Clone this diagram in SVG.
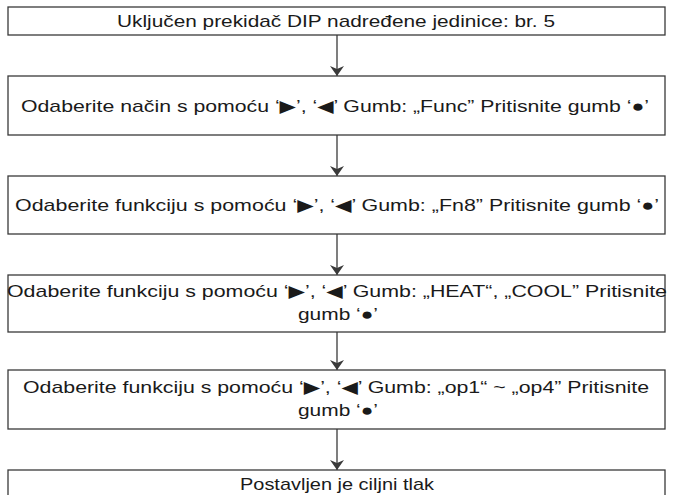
<svg xmlns="http://www.w3.org/2000/svg" width="673" height="495" viewBox="0 0 673 495">
<style>
.box{fill:#fff;stroke:#3a3a3a;stroke-width:1.3}
.t{font-family:"Liberation Sans",Arial,"DejaVu Sans",sans-serif;font-size:17px;fill:#1a1a1a;text-anchor:middle}
.c{stroke:#3a3a3a;stroke-width:1.3;fill:none;marker-end:url(#ah)}
</style>
<defs><marker id="ah" viewBox="0 0 10 14" refX="10" refY="7" markerWidth="10" markerHeight="14" markerUnits="userSpaceOnUse" orient="auto"><path d="M0,0 L10,7 L0,14 L3,7 Z" fill="#3a3a3a"/></marker></defs>
<rect width="673" height="495" fill="#fff"/>
<g id="connectors">
<line class="c" x1="337" y1="35" x2="337" y2="76"/>
<line class="c" x1="337" y1="135" x2="337" y2="176"/>
<line class="c" x1="337" y1="234" x2="337" y2="275"/>
<line class="c" x1="337" y1="332" x2="337" y2="370"/>
<line class="c" x1="337" y1="429" x2="337" y2="470"/>
</g>
<g id="n1"><rect class="box" x="8" y="7" width="657" height="28"/><text class="t" x="336" y="27" textLength="438" lengthAdjust="spacingAndGlyphs">Uključen prekidač DIP nadređene jedinice: br. 5</text></g>
<g id="n2"><rect class="box" x="8" y="76" width="657" height="59"/><text class="t" x="335" y="112" textLength="628" lengthAdjust="spacingAndGlyphs">Odaberite način s pomoću ‘▶’, ‘◀’ Gumb: „Func” Pritisnite gumb ‘●’</text></g>
<g id="n3"><rect class="box" x="8" y="176" width="657" height="58"/><text class="t" x="337" y="211" textLength="644" lengthAdjust="spacingAndGlyphs">Odaberite funkciju s pomoću ‘▶’, ‘◀’ Gumb: „Fn8” Pritisnite gumb ‘●’</text></g>
<g id="n4"><rect class="box" x="8" y="275" width="657" height="57"/><text class="t" x="337" y="297" textLength="660" lengthAdjust="spacingAndGlyphs">Odaberite funkciju s pomoću ‘▶’, ‘◀’ Gumb: „HEAT“, „COOL” Pritisnite</text><text class="t" x="338" y="320" textLength="80" lengthAdjust="spacingAndGlyphs">gumb ‘●’</text></g>
<g id="n5"><rect class="box" x="8" y="370" width="657" height="59"/><text class="t" x="336" y="393" textLength="626" lengthAdjust="spacingAndGlyphs">Odaberite funkciju s pomoću ‘▶’, ‘◀’ Gumb: „op1“ ~ „op4” Pritisnite</text><text class="t" x="338" y="416" textLength="80" lengthAdjust="spacingAndGlyphs">gumb ‘●’</text></g>
<g id="n6"><rect class="box" x="8" y="470" width="657" height="30"/><text class="t" x="337" y="490" textLength="194" lengthAdjust="spacingAndGlyphs">Postavljen je ciljni tlak</text></g>
</svg>
